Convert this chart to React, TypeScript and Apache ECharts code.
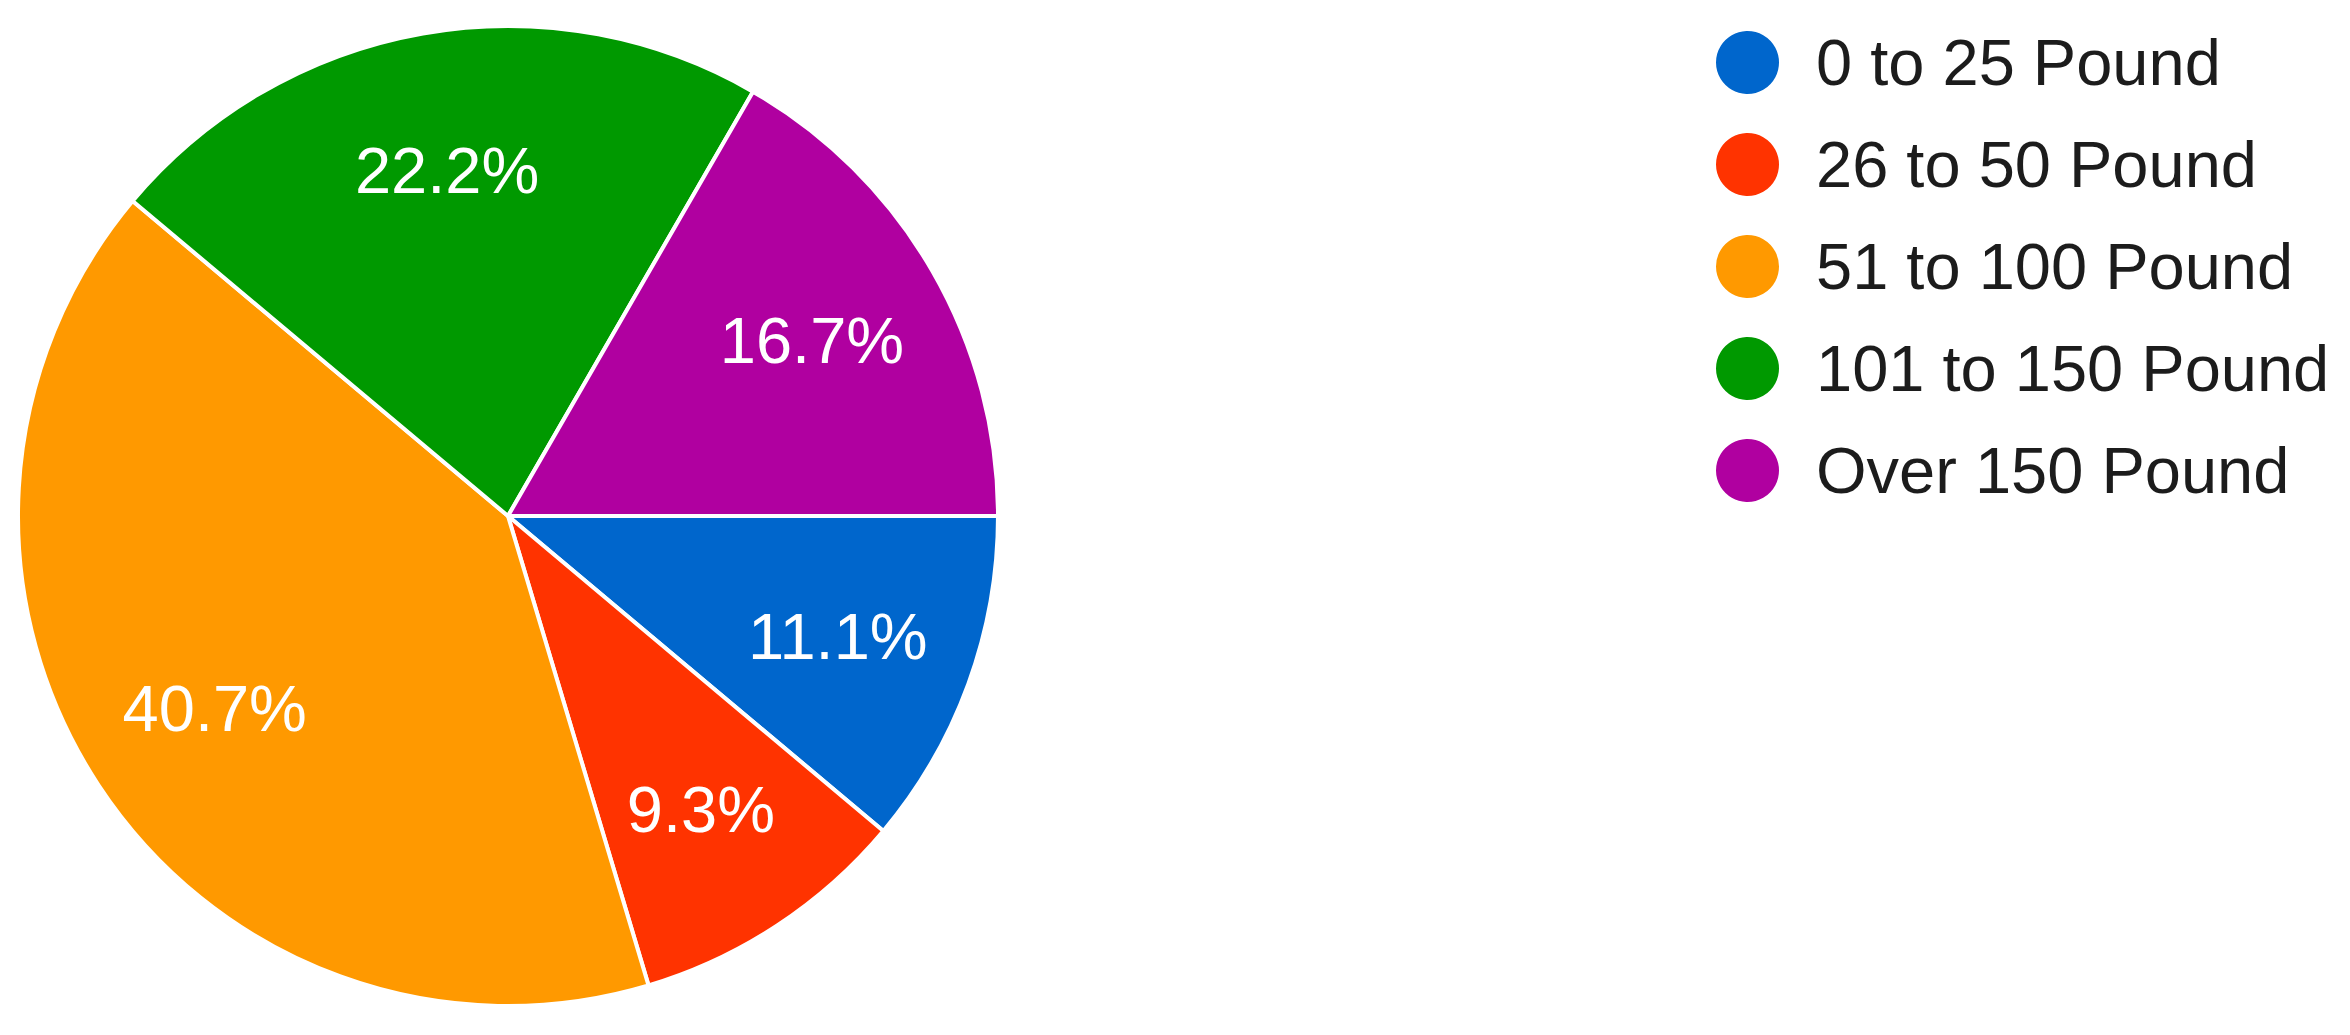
import React, { useEffect, useRef } from "react";
import * as echarts from "echarts";

const categories = ["0 to 25 Pound", "26 to 50 Pound", "51 to 100 Pound", "101 to 150 Pound", "Over 150 Pound"];
const counts = [6, 5, 22, 12, 9];
const colors = ["#0066cc", "#ff3300", "#ff9900", "#009900", "#b000a0"];

const FONT = "'Liberation Sans', Arial, Helvetica, sans-serif";

export default function App() {
  const ref = useRef<HTMLDivElement>(null);
  useEffect(() => {
    if (!ref.current) return;
    const chart = echarts.init(ref.current, undefined, { renderer: "svg" });
    const data = categories.map((name, i) => ({ name, value: counts[i], itemStyle: { color: colors[i] } }));
    chart.setOption({
      animation: false,
      backgroundColor: "#ffffff",
      legend: {
        orient: "vertical",
        left: 1709,
        top: 24,
        icon: "circle",
        itemWidth: 127,
        itemHeight: 65,
        itemGap: 35,
        selectedMode: false,
        data: categories,
        textStyle: { fontSize: 65, lineHeight: 65, color: "#1c1c1c", fontFamily: FONT },
      },
      series: [
        {
          type: "pie",
          center: [508, 516],
          radius: [0, 490],
          startAngle: 0,
          clockwise: true,
          silent: true,
          label: { show: false },
          labelLine: { show: false },
          itemStyle: { borderColor: "#ffffff", borderWidth: 4 },
          data,
        },
        {
          type: "pie",
          center: [508, 516],
          radius: [206, 490],
          startAngle: 0,
          clockwise: true,
          silent: true,
          percentPrecision: 1,
          avoidLabelOverlap: false,
          itemStyle: { color: "transparent", borderWidth: 0 },
          label: {
            show: true,
            position: "inside",
            formatter: "{d}%",
            color: "#ffffff",
            fontSize: 65,
            fontFamily: FONT,
          },
          labelLine: { show: false },
          data: categories.map((name, i) => ({ name, value: counts[i] })),
        },
      ],
    });
    return () => chart.dispose();
  }, []);
  return <div ref={ref} style={{ position: "absolute", left: 0, top: 0, width: 2350, height: 1035 }} />;
}
